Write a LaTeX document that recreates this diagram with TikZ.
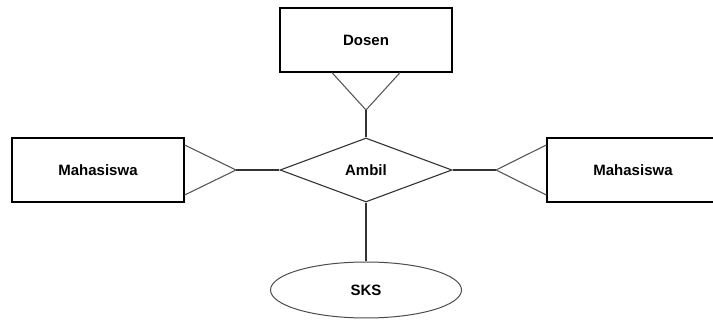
\documentclass[tikz,border=0pt]{standalone}
\usepackage{fontspec}
\setmainfont{Liberation Sans}
\usetikzlibrary{shapes.geometric,calc}
\begin{document}
\begin{tikzpicture}[x=1pt,y=-1pt,
  lbl/.style={font=\bfseries\fontsize{15}{17}\selectfont},
  entity/.style={lbl,draw=black,line width=1.3pt,minimum width=172pt,minimum height=64pt,inner sep=0pt},
  relation/.style={lbl,draw=black!80,line width=1.1pt,diamond,aspect=2.69,minimum width=172pt,minimum height=64pt,inner sep=0pt},
  attr/.style={lbl,draw=black!70,line width=1pt,ellipse,minimum width=191pt,minimum height=56pt,inner sep=0pt},
  link/.style={draw=black!80,line width=1.1pt},
  foot/.style={draw=black!65,line width=1.1pt}]
  \fill[white] (0,0) rectangle (713,320);
  \useasboundingbox (0,0) rectangle (713,320);

  % entities, relationship and attribute
  \node[entity] (dosen) at (366,40) {Dosen};
  \node[entity] (mhsL) at (98,170) {Mahasiswa};
  \node[entity] (mhsR) at (633,170) {Mahasiswa};
  \node[relation] (ambil) at (366,170) {Ambil};
  \node[attr] (sks) at (366,290) {SKS};

  % crow's-foot tips
  \coordinate (tipT) at (366,110);
  \coordinate (tipL) at (236,170);
  \coordinate (tipR) at (496,170);

  % crow's feet
  \draw[foot] ($(dosen.south)+(-34,0)$) -- (tipT) -- ($(dosen.south)+(34,0)$);
  \draw[foot] ($(mhsL.east)+(0,-25)$) -- (tipL) -- ($(mhsL.east)+(0,25)$);
  \draw[foot] ($(mhsR.west)+(0,-25)$) -- (tipR) -- ($(mhsR.west)+(0,25)$);

  % connectors to the relationship
  \draw[link] (tipT) -- (ambil.north);
  \draw[link] (tipL) -- (ambil.west);
  \draw[link] (tipR) -- (ambil.east);
  \draw[link] (ambil.south) -- (sks.north);
\end{tikzpicture}
\end{document}
